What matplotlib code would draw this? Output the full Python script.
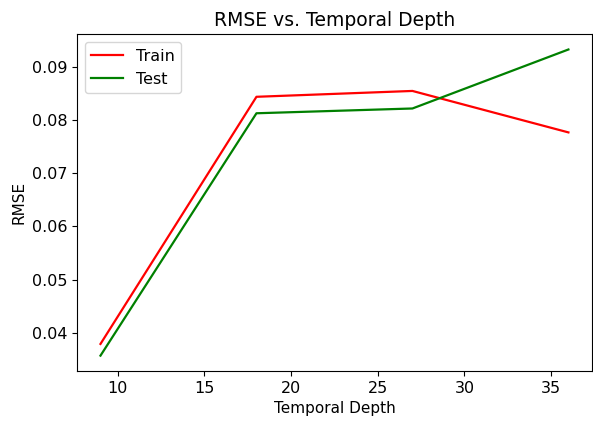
import matplotlib
matplotlib.use("Agg")
import matplotlib.pyplot as plt

depth = [9, 18, 27, 36]
train_rmse = [0.0379, 0.0844, 0.0855, 0.0777]
test_rmse = [0.0357, 0.0813, 0.0822, 0.0933]

fig = plt.figure(figsize=(5.93, 4.22), dpi=100)
ax = fig.add_axes([0.13, 0.121, 0.868, 0.798])
ax.plot(depth, train_rmse, color='red', label='Train', linewidth=1.6)
ax.plot(depth, test_rmse, color='green', label='Test', linewidth=1.6)
ax.set_title("RMSE vs. Temporal Depth", fontsize=13.5)
ax.set_xlabel("Temporal Depth", fontsize=11)
ax.set_ylabel("RMSE", fontsize=11)
ax.tick_params(labelsize=11.5)
ax.legend(loc='upper left', fontsize=11.5)
fig.savefig("out.png", dpi=100)
